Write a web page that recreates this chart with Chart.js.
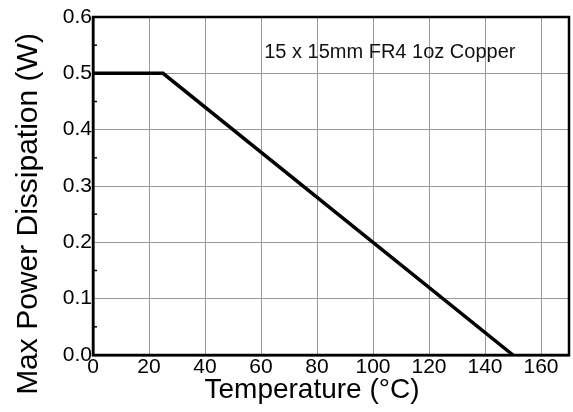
<!DOCTYPE html>
<html>
<head>
<meta charset="utf-8">
<script src="https://cdn.jsdelivr.net/npm/chart.js@4"></script>
<style>
  html, body { margin: 0; padding: 0; background: #fff; }
  #wrap { width: 573px; height: 412px; }
</style>
</head>
<body>
<div id="wrap"><canvas id="derating"></canvas></div>
<script>
// derating curve
const tempPoints = [0, 25, 150];
const powerPoints = [0.5, 0.5, 0.0];
const xTickValues = [0, 20, 40, 60, 80, 100, 120, 140, 160];
const yTickValues = [0.0, 0.1, 0.2, 0.3, 0.4, 0.5, 0.6];
const noteText = '15 x 15mm FR4 1oz Copper';
const xTitle = 'Temperature (°C)';
const yTitle = 'Max Power Dissipation (W)';

const FONT = '"Liberation Sans", Arial, sans-serif';

// black frame round the plot, small inner ticks, axis titles and the note
const framePlugin = {
    id: 'frame',
    afterDraw(chart) {
        const { ctx, chartArea: a, scales } = chart;
        ctx.save();
        ctx.strokeStyle = '#000';
        ctx.lineWidth = 1.5;
        // minor ticks on left axis
        for (let i = 0; i < yTickValues.length - 1; i++) {
            const y = scales.y.getPixelForValue((yTickValues[i] + yTickValues[i + 1]) / 2);
            ctx.beginPath();
            ctx.moveTo(a.left, y);
            ctx.lineTo(a.left + 4, y);
            ctx.stroke();
        }
        ctx.lineWidth = 2.5;
        ctx.strokeRect(a.left, a.top, a.right - a.left, a.bottom - a.top);

        ctx.fillStyle = '#111';
        ctx.textAlign = 'center';
        ctx.textBaseline = 'middle';
        ctx.font = '20px ' + FONT;
        ctx.fillText(noteText, scales.x.getPixelForValue(106), scales.y.getPixelForValue(0.537));

        ctx.fillStyle = '#000';
        ctx.font = '28px ' + FONT;
        ctx.fillText(xTitle, 312, 390);

        ctx.translate(29, 214);
        ctx.rotate(-Math.PI / 2);
        ctx.font = '30px ' + FONT;
        ctx.fillText(yTitle, 0, 0);
        ctx.restore();
    }
};

const ctx = document.getElementById('derating').getContext('2d');
new Chart(ctx, {
    type: 'line',
    data: {
        datasets: [{
            data: tempPoints.map((t, i) => ({ x: t, y: powerPoints[i] })),
            borderColor: '#000',
            borderWidth: 3.5,
            pointRadius: 0,
            tension: 0,
            fill: false
        }]
    },
    options: {
        responsive: true,
        maintainAspectRatio: false,
        animation: false,
        layout: { padding: { top: 17, right: 4, left: 0, bottom: 0 } },
        plugins: { legend: { display: false }, tooltip: { enabled: false } },
        scales: {
            x: {
                type: 'linear',
                min: 0,
                max: 170,
                afterBuildTicks: (scale) => {
                    scale.ticks = xTickValues.map((v) => ({ value: v }));
                },
                afterFit: (scale) => { scale.height = 57; },
                grid: { color: '#999', lineWidth: 1, drawTicks: false },
                border: { color: '#000', width: 2.5 },
                ticks: {
                    color: '#000',
                    padding: 0,
                    maxRotation: 0,
                    font: { family: FONT, size: 21 }
                }
            },
            y: {
                min: 0,
                max: 0.6,
                afterBuildTicks: (scale) => {
                    scale.ticks = yTickValues.map((v) => ({ value: v }));
                },
                afterFit: (scale) => { scale.width = 93; },
                grid: { color: '#999', lineWidth: 1, drawTicks: false },
                border: { color: '#000', width: 2.5 },
                ticks: {
                    color: '#000',
                    padding: 1,
                    font: { family: FONT, size: 21 },
                    callback: (v) => Number(v).toFixed(1)
                }
            }
        }
    },
    plugins: [framePlugin]
});
</script>
</body>
</html>
